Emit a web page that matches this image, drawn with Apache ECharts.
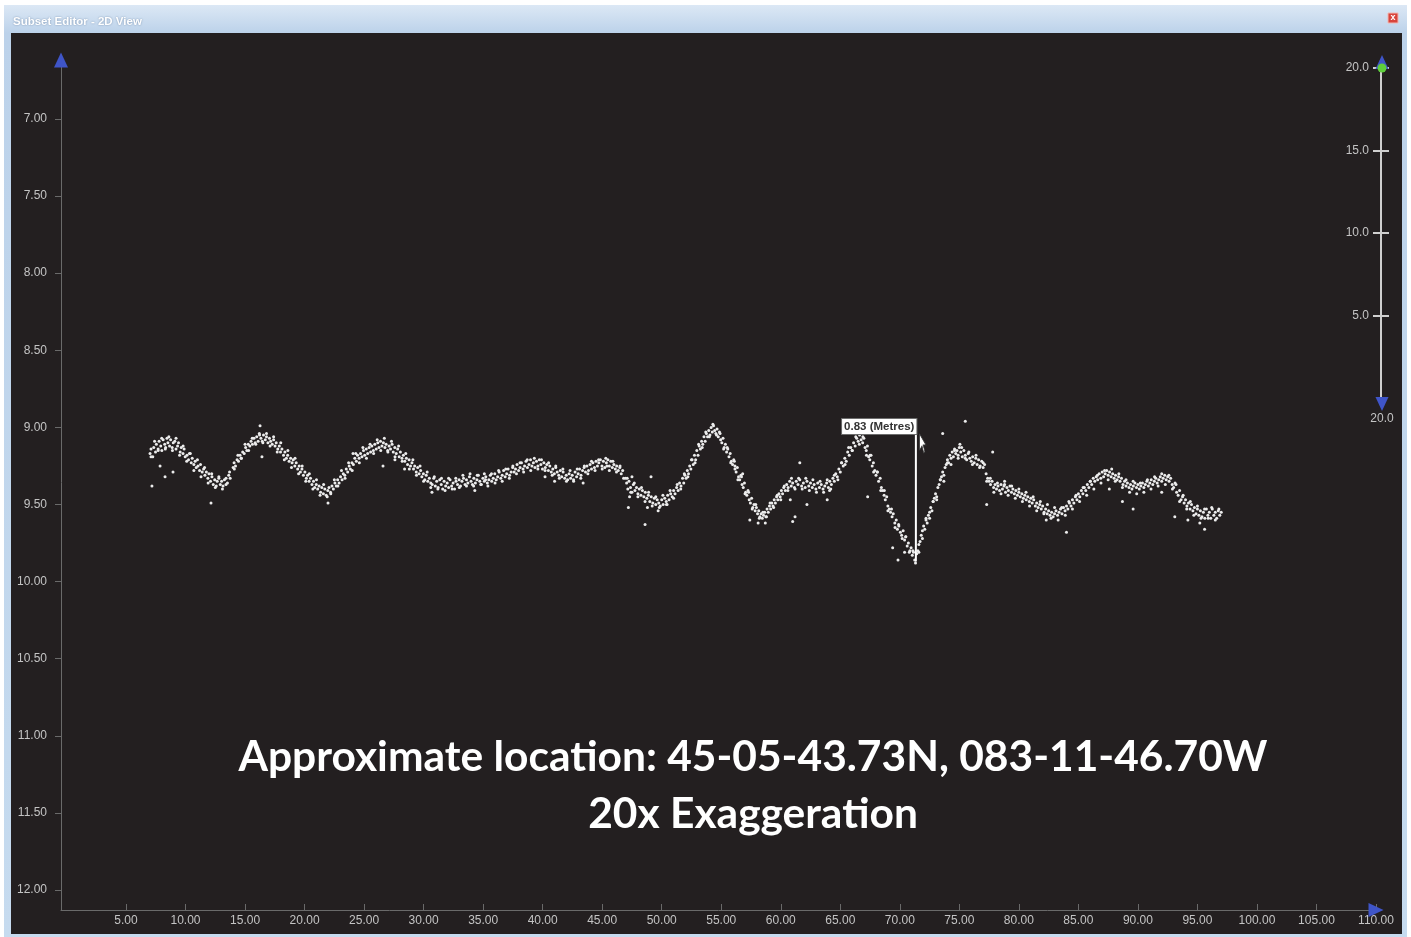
<!DOCTYPE html>
<html>
<head>
<meta charset="utf-8">
<title>Subset Editor - 2D View</title>
<script src="https://cdn.jsdelivr.net/npm/echarts@6/dist/echarts.min.js"></script>
<style>
  html, body { margin: 0; padding: 0; background: #ffffff; }
  #chart { width: 1411px; height: 937px; }
</style>
</head>
<body>
<div id="chart"></div>
<script>
// Profile soundings: [distance along line, depth (m)]
const ridgeWest = [
  [7.02,9.17],[7.10,9.14],[7.25,9.19],[7.33,9.13],[7.48,9.16],[7.55,9.11],[7.70,9.14],[7.78,9.09],[7.92,9.12],[8.01,9.15],
  [8.12,9.08],[8.25,9.11],[8.33,9.13],[8.44,9.07],[8.52,9.10],[8.66,9.12],[8.75,9.08],[8.88,9.13],[8.97,9.10],[9.10,9.09],
  [9.20,9.14],[9.33,9.12],[9.41,9.10],[9.55,9.16],[9.64,9.13],[9.79,9.17],[9.88,9.14],[9.97,9.19],[10.12,9.18],[10.25,9.21],
  [10.33,9.17],[10.48,9.23],[10.56,9.20],[10.70,9.24],[10.81,9.22],[10.90,9.26],[11.05,9.25],[11.18,9.28],[11.26,9.24],[11.40,9.29],
  [11.52,9.27],[11.63,9.31],[11.75,9.29],[11.88,9.33],[11.97,9.30],[12.10,9.35],[12.22,9.32],[12.33,9.37],[12.45,9.34],[12.58,9.38],
  [12.66,9.35],[12.80,9.33],[12.92,9.37],[13.03,9.35],[13.15,9.38],[13.27,9.34],[13.40,9.33],[13.52,9.36],[13.63,9.31],[13.75,9.33],
  [14.00,9.26],[14.08,9.23],[14.20,9.25],[14.33,9.21],[14.45,9.22],[14.58,9.18],[14.66,9.20],[14.80,9.16],[14.93,9.17],[15.05,9.13],
  [15.15,9.15],[15.27,9.11],[15.40,9.12],[15.50,9.09],[15.62,9.11],[15.75,9.07],[15.85,9.10],[15.98,9.06],[16.10,9.09],[16.22,9.05],
  [16.33,9.07],[16.45,9.09],[16.55,9.05],[16.70,9.08],[16.80,9.06],[16.92,9.10],[17.05,9.07],[17.15,9.09],[17.28,9.11],[17.40,9.08],
  [17.52,9.12],[17.62,9.10],[17.75,9.14],[17.88,9.12],[17.98,9.16],[18.10,9.14],[18.23,9.18],[18.35,9.16],[18.47,9.20],[18.58,9.18],
  [18.70,9.22],[18.83,9.20],[18.95,9.23],[19.05,9.21],[19.18,9.25],[19.30,9.23],[19.42,9.27],[19.55,9.25],[19.65,9.29],[19.78,9.27],
  [19.90,9.31],[20.03,9.29],[20.15,9.33],[20.25,9.31],[20.38,9.35],[20.50,9.33],[20.62,9.37],[20.75,9.35],[20.85,9.39],[20.98,9.37],
  [21.10,9.40],[21.22,9.38],[21.35,9.42],[21.45,9.39],[21.58,9.43],[21.70,9.40],[21.82,9.44],[21.95,9.41],[22.05,9.39],[22.18,9.42],
  [22.30,9.38],[22.42,9.40],[22.55,9.36],[22.66,9.38],[22.78,9.34],[22.90,9.36],[23.02,9.32],[23.15,9.34],[23.25,9.30],[23.38,9.31],
  [23.50,9.27],[23.62,9.29],[23.75,9.25],[23.85,9.27],[23.98,9.23],[24.10,9.24],[24.22,9.20],[24.35,9.22],[24.45,9.18],[24.58,9.20],
  [24.70,9.17],[24.82,9.19],[24.95,9.15],[25.05,9.18],[25.18,9.14],[25.30,9.17],[25.42,9.13],[25.55,9.16],[25.65,9.12],[25.78,9.15],
  [25.90,9.11],[26.02,9.14],[26.15,9.10],[26.25,9.13],[26.38,9.09],[26.50,9.12],[26.62,9.10],[26.75,9.13],[26.85,9.11],[26.98,9.15],
  [27.10,9.12],[27.22,9.14],[27.35,9.11],[27.45,9.16],[27.58,9.13],[27.70,9.17],[27.82,9.14],[27.95,9.19],[28.05,9.16],[28.18,9.20],
  [28.30,9.18],[28.42,9.22],[28.55,9.20],[28.65,9.24],[28.78,9.21],[28.90,9.25],[29.02,9.23],[29.15,9.27],[29.25,9.25],[29.38,9.29],
  [29.50,9.26],[29.62,9.30],[29.75,9.28],[29.85,9.32],[29.98,9.30],[30.10,9.34],[30.22,9.31],[30.35,9.35],[30.48,9.33],[30.60,9.36]
];

const flatMid = [
  [30.72,9.37],[30.85,9.33],[30.98,9.38],[31.10,9.35],[31.22,9.39],[31.35,9.34],[31.48,9.37],[31.60,9.40],[31.72,9.35],[31.85,9.38],
  [31.98,9.36],[32.10,9.39],[32.22,9.34],[32.35,9.38],[32.48,9.36],[32.60,9.40],[32.72,9.35],[32.85,9.37],[32.98,9.34],[33.10,9.38],
  [33.22,9.35],[33.35,9.33],[33.48,9.37],[33.60,9.34],[33.72,9.36],[33.85,9.32],[33.98,9.35],[34.10,9.37],[34.22,9.33],[34.35,9.36],
  [34.48,9.34],[34.60,9.31],[34.72,9.35],[34.85,9.37],[34.98,9.33],[35.10,9.35],[35.22,9.32],[35.35,9.36],[35.48,9.34],[35.60,9.31],
  [35.72,9.35],[35.85,9.33],[35.98,9.30],[36.10,9.34],[36.22,9.32],[36.35,9.29],[36.48,9.33],[36.60,9.31],[36.72,9.28],[36.85,9.32],
  [36.98,9.30],[37.10,9.27],[37.22,9.31],[37.35,9.29],[37.48,9.26],[37.60,9.29],[37.72,9.27],[37.85,9.24],[37.98,9.28],[38.10,9.26],
  [38.22,9.23],[38.35,9.27],[38.48,9.25],[38.60,9.22],[38.72,9.26],[38.85,9.24],[38.98,9.21],[39.10,9.25],[39.22,9.23],[39.35,9.26],
  [39.48,9.22],[39.60,9.25],[39.72,9.21],[39.85,9.24],[39.98,9.27],[40.10,9.23],[40.22,9.26],[40.35,9.24],[40.48,9.28],[40.60,9.25],
  [40.72,9.29],[40.85,9.27],[40.98,9.30],[41.10,9.26],[41.22,9.29],[41.35,9.31],[41.48,9.28],[41.60,9.32],[41.72,9.29],[41.85,9.33],
  [41.98,9.31],[42.10,9.34],[42.22,9.30],[42.35,9.33],[42.48,9.31],[42.60,9.34],[42.72,9.29],[42.85,9.32],[42.98,9.30],[43.10,9.27],
  [43.22,9.31],[43.35,9.28],[43.48,9.26],[43.60,9.29],[43.72,9.25],[43.85,9.28],[43.98,9.24],[44.10,9.27],[44.22,9.23],[44.35,9.26],
  [44.48,9.22],[44.60,9.25],[44.72,9.23],[44.85,9.21],[44.98,9.25],[45.10,9.22],[45.22,9.26],[45.35,9.23],[45.48,9.21],[45.60,9.25],
  [45.72,9.22],[45.85,9.26],[45.98,9.24],[46.10,9.27],[46.22,9.25],[46.35,9.28],[46.48,9.26],[46.60,9.30],[46.72,9.28]
];

const swellMid = [
  [46.95,9.33],[47.05,9.36],[47.15,9.40],[47.25,9.35],[47.38,9.39],[47.50,9.42],[47.62,9.37],[47.75,9.41],[47.88,9.39],[48.00,9.43],
  [48.12,9.40],[48.25,9.44],[48.38,9.41],[48.50,9.45],[48.62,9.42],[48.75,9.46],[48.88,9.44],[49.00,9.48],[49.12,9.45],[49.25,9.49],
  [49.38,9.46],[49.50,9.50],[49.62,9.47],[49.75,9.49],[49.88,9.51],[50.00,9.47],[50.12,9.50],[50.25,9.46],[50.38,9.48],[50.50,9.44],
  [50.62,9.47],[50.75,9.43],[50.88,9.45],[51.00,9.41],[51.12,9.43],[51.25,9.39],[51.38,9.41],[51.50,9.36],[51.62,9.38],[51.75,9.33],
  [51.85,9.36],[51.95,9.31],[52.05,9.33],[52.15,9.28],[52.25,9.30],[52.35,9.25],[52.45,9.27],[52.55,9.21],[52.65,9.24],[52.75,9.18],
  [52.85,9.21],[52.95,9.15],[53.05,9.18],[53.15,9.12],[53.25,9.14],[53.35,9.09],[53.45,9.11],[53.55,9.06],[53.65,9.09],[53.75,9.04],
  [53.85,9.06],[53.95,9.02],[54.05,9.05],[54.15,9.00],[54.25,9.03],[54.35,8.99],[54.45,9.02],[54.55,9.04],[54.65,9.01],[54.75,9.06],
  [54.85,9.03],[54.95,9.08],[55.05,9.10],[55.15,9.07],[55.25,9.13],[55.35,9.11],[55.45,9.16],[55.55,9.14],[55.65,9.19],[55.75,9.17],
  [55.85,9.22],[55.95,9.24],[56.05,9.21],[56.15,9.27],[56.25,9.29],[56.35,9.26],[56.45,9.32],[56.55,9.34],[56.65,9.31],[56.75,9.37],
  [56.85,9.39],[56.95,9.36],[57.05,9.42],[57.15,9.44],[57.25,9.41],[57.35,9.47],[57.45,9.49],[57.55,9.46],[57.65,9.52],[57.75,9.50],
  [57.85,9.54],[57.95,9.52],[58.05,9.56],[58.15,9.54],[58.25,9.58],[58.35,9.56],[58.45,9.59],[58.55,9.57],[58.65,9.55],[58.75,9.58],
  [58.85,9.53],[58.95,9.55],[59.05,9.51],[59.15,9.53],[59.25,9.49],[59.35,9.51],[59.45,9.47],[59.55,9.49],[59.65,9.45],[59.75,9.47],
  [59.85,9.43],[59.95,9.45],[60.05,9.41],[60.15,9.43],[60.25,9.39],[60.38,9.41],[60.50,9.37],[60.62,9.39],[60.75,9.35],[60.88,9.38],
  [61.00,9.36],[61.15,9.39],[61.30,9.35],[61.45,9.37],[61.60,9.34],[61.75,9.38],[61.90,9.36],[62.05,9.39],[62.20,9.35],[62.35,9.38],
  [62.50,9.36],[62.65,9.39],[62.80,9.37],[62.95,9.40],[63.10,9.36],[63.25,9.39],[63.40,9.37],[63.55,9.40],[63.70,9.38],[63.85,9.36],
  [64.00,9.39],[64.12,9.35],[64.25,9.37],[64.38,9.33],[64.50,9.35],[64.62,9.30],[64.75,9.32],[64.88,9.27],[65.00,9.29],[65.12,9.23],
  [65.25,9.25],[65.38,9.20],[65.50,9.22],[65.62,9.16],[65.75,9.18],[65.88,9.13],[66.00,9.15],[66.12,9.10],[66.25,9.12],[66.38,9.07],
  [66.50,9.09],[66.62,9.05],[66.75,9.08]
];

const troughEast = [
  [66.88,9.10],[66.98,9.07],[67.08,9.13],[67.18,9.15],[67.28,9.12],[67.38,9.19],[67.48,9.21],[67.58,9.18],[67.68,9.25],[67.78,9.23],
  [67.90,9.28],[68.00,9.31],[68.12,9.29],[68.22,9.35],[68.35,9.33],[68.45,9.39],[68.55,9.41],[68.68,9.44],[68.78,9.47],[68.90,9.45],
  [69.00,9.51],[69.12,9.53],[69.22,9.55],[69.35,9.58],[69.45,9.56],[69.58,9.62],[69.70,9.60],[69.80,9.66],[69.92,9.64],[70.05,9.68],
  [70.15,9.70],[70.28,9.67],[70.40,9.73],[70.50,9.71],[70.62,9.77],[70.72,9.75],[70.85,9.80],[70.95,9.78],[71.05,9.83],[71.15,9.81],
  [71.25,9.86],[71.32,9.88],[71.42,9.82],[71.52,9.80],[71.60,9.76],[71.70,9.74],[71.80,9.70],[71.90,9.67],[72.00,9.64],[72.10,9.66],
  [72.20,9.60],[72.30,9.62],[72.40,9.57],[72.50,9.55],[72.60,9.52],[72.70,9.54],[72.80,9.48],[72.90,9.46],[73.00,9.43],[73.10,9.45],
  [73.20,9.39],[73.30,9.37],[73.40,9.34],[73.50,9.32],[73.60,9.29],[73.70,9.31],[73.80,9.26],[73.90,9.24],[74.00,9.21],[74.10,9.23],
  [74.20,9.18],[74.30,9.20],[74.40,9.16],[74.50,9.19],[74.60,9.14],[74.70,9.17],[74.80,9.15],[74.90,9.18],[75.00,9.13],[75.12,9.16],
  [75.25,9.19],[75.38,9.15],[75.50,9.18],[75.62,9.21],[75.75,9.17],[75.88,9.20],[76.00,9.22],[76.12,9.19],[76.25,9.23]
];

const tailEast = [
  [76.38,9.20],[76.50,9.24],[76.62,9.21],[76.75,9.25],[76.88,9.22],[77.00,9.26],[77.12,9.24],[77.25,9.30],[77.38,9.33],[77.50,9.35],
  [77.62,9.37],[77.75,9.35],[77.88,9.39],[78.00,9.37],[78.12,9.40],[78.25,9.38],[78.38,9.41],[78.50,9.37],[78.62,9.40],[78.75,9.38],
  [78.88,9.42],[79.00,9.39],[79.12,9.41],[79.25,9.38],[79.38,9.42],[79.50,9.40],[79.62,9.43],[79.75,9.41],[79.88,9.44],[80.00,9.42],
  [80.12,9.45],[80.25,9.43],[80.38,9.46],[80.50,9.44],[80.62,9.47],[80.75,9.45],[80.88,9.48],[81.00,9.46],[81.12,9.49],[81.25,9.47],
  [81.38,9.51],[81.50,9.49],[81.62,9.52],[81.75,9.50],[81.88,9.53],[82.00,9.51],[82.12,9.55],[82.25,9.53],[82.38,9.56],[82.50,9.54],
  [82.62,9.57],[82.75,9.55],[82.88,9.58],[83.00,9.56],[83.12,9.54],[83.25,9.57],[83.38,9.55],[83.50,9.53],[83.62,9.56],[83.75,9.52],
  [83.88,9.54],[84.00,9.51],[84.12,9.53],[84.25,9.49],[84.38,9.51],[84.50,9.47],[84.62,9.49],[84.75,9.45],[84.88,9.47],[85.00,9.43],
  [85.12,9.45],[85.25,9.41],[85.38,9.43],[85.50,9.39],[85.62,9.41],[85.75,9.37],[85.88,9.39],[86.00,9.35],[86.12,9.37],[86.25,9.33],
  [86.38,9.35],[86.50,9.32],[86.62,9.34],[86.75,9.30],[86.88,9.33],[87.00,9.29],[87.12,9.32],[87.25,9.30],[87.38,9.28],[87.50,9.31],
  [87.62,9.29],[87.75,9.32],[87.88,9.30],[88.00,9.33],[88.12,9.31],[88.25,9.34],[88.38,9.32],[88.50,9.35],[88.62,9.33],[88.75,9.37],
  [88.88,9.35],[89.00,9.38],[89.12,9.36],[89.25,9.39],[89.38,9.37],[89.50,9.40],[89.62,9.38],[89.75,9.36],[89.88,9.39],[90.00,9.37],
  [90.12,9.40],[90.25,9.38],[90.38,9.36],[90.50,9.39],[90.62,9.37],[90.75,9.35],[90.88,9.38],[91.00,9.36],[91.12,9.34],[91.25,9.37],
  [91.38,9.35],[91.50,9.33],[91.62,9.36],[91.75,9.34],[91.88,9.32],[92.00,9.35],[92.12,9.33],[92.25,9.31],[92.38,9.34],[92.50,9.32],
  [92.62,9.35],[92.75,9.33],[92.88,9.37],[93.00,9.39],[93.12,9.36],[93.25,9.42],[93.38,9.44],[93.50,9.41],[93.62,9.47],[93.75,9.45],
  [93.88,9.49],[94.00,9.47],[94.12,9.51],[94.25,9.49],[94.38,9.53],[94.50,9.50],[94.62,9.54],[94.75,9.52],[94.88,9.56],[95.00,9.53],
  [95.12,9.57],[95.25,9.54],[95.38,9.58],[95.50,9.55],[95.62,9.59],[95.75,9.53],[95.88,9.57],[96.00,9.55],[96.12,9.59],[96.25,9.53],
  [96.38,9.57],[96.50,9.55],[96.62,9.59],[96.75,9.54],[96.88,9.57],[97.00,9.55]
];

// Returns along the edges of the seabed band
const bandSpread = [
  [7.10,9.19],[7.40,9.09],[7.70,9.15],[8.00,9.07],[8.30,9.14],[8.60,9.06],[8.90,9.15],[9.20,9.07],[9.50,9.18],[9.80,9.12],
  [10.10,9.22],[10.40,9.17],[10.70,9.28],[11.00,9.21],[11.30,9.32],[11.60,9.26],[11.90,9.36],[12.20,9.30],[12.50,9.39],[12.80,9.32],
  [13.10,9.40],[13.40,9.37],[13.70,9.29],[14.10,9.27],[14.40,9.18],[14.70,9.20],[15.00,9.11],[15.30,9.15],[15.60,9.07],[15.90,9.11],
  [16.20,9.04],[16.50,9.10],[16.80,9.04],[17.10,9.12],[17.40,9.06],[17.70,9.16],[18.00,9.10],[18.30,9.21],[18.60,9.15],[18.90,9.26],
  [19.20,9.20],[19.50,9.30],[19.80,9.25],[20.10,9.35],[20.40,9.30],[20.70,9.40],[21.00,9.34],[21.30,9.44],[21.60,9.37],[21.90,9.45],
  [22.20,9.43],[22.50,9.34],[22.80,9.38],[23.10,9.28],[23.40,9.33],[23.70,9.23],[24.00,9.28],[24.30,9.17],[24.60,9.23],[24.90,9.13],
  [25.20,9.20],[25.50,9.11],[25.80,9.17],[26.10,9.08],[26.40,9.15],[26.70,9.07],[27.00,9.16],[27.30,9.09],[27.60,9.19],[27.90,9.12],
  [28.20,9.22],[28.50,9.17],[28.80,9.27],[29.10,9.21],[29.40,9.31],[29.70,9.25],[30.00,9.35],[30.30,9.29],[30.60,9.39],[30.90,9.32],
  [31.20,9.40],[31.50,9.33],[31.80,9.41],[32.10,9.33],[32.40,9.40],[32.70,9.33],[33.00,9.39],[33.30,9.31],[33.60,9.38],[33.90,9.30],
  [34.20,9.38],[34.50,9.31],[34.80,9.37],[35.10,9.30],[35.40,9.38],[35.70,9.30],[36.00,9.36],[36.30,9.28],[36.60,9.35],[36.90,9.27],
  [37.20,9.33],[37.50,9.25],[37.80,9.30],[38.10,9.23],[38.40,9.29],[38.70,9.21],[39.00,9.28],[39.30,9.20],[39.60,9.27],[39.90,9.21],
  [40.20,9.28],[40.50,9.23],[40.80,9.31],[41.10,9.25],[41.40,9.33],[41.70,9.27],[42.00,9.35],[42.30,9.28],[42.60,9.35],[42.90,9.27],
  [43.20,9.33],[43.50,9.25],[43.80,9.30],[44.10,9.22],[44.40,9.28],[44.70,9.21],[45.00,9.27],[45.30,9.20],[45.60,9.28],[45.90,9.22],
  [46.20,9.29],[46.50,9.25],[46.80,9.33],[47.10,9.33],[47.40,9.42],[47.70,9.36],[48.00,9.45],[48.30,9.39],[48.60,9.48],[48.90,9.42],
  [49.20,9.51],[49.50,9.45],[49.80,9.52],[50.10,9.44],[50.40,9.50],[50.70,9.41],[51.00,9.46],[51.30,9.37],[51.60,9.40],[51.90,9.30],
  [52.20,9.32],[52.50,9.21],[52.80,9.23],[53.10,9.11],[53.40,9.13],[53.70,9.03],[54.00,9.06],[54.30,8.98],[54.60,9.05],[54.90,9.04],
  [55.20,9.14],[55.50,9.13],[55.80,9.23],[56.10,9.22],[56.40,9.34],[56.70,9.32],[57.00,9.43],[57.30,9.42],[57.60,9.53],[57.90,9.50],
  [58.20,9.59],[58.50,9.55],[58.80,9.58],[59.10,9.49],[59.40,9.52],[59.70,9.44],[60.00,9.47],[60.30,9.38],[60.60,9.41],[60.90,9.33],
  [61.20,9.40],[61.50,9.33],[61.80,9.40],[62.10,9.33],[62.40,9.41],[62.70,9.34],[63.00,9.42],[63.30,9.35],[63.60,9.42],[63.90,9.34],
  [64.20,9.40],[64.50,9.31],[64.80,9.34],[65.10,9.23],[65.40,9.24],[65.70,9.13],[66.00,9.15],[66.30,9.06],[66.60,9.11],[66.90,9.06],
  [67.20,9.18],[67.50,9.18],[67.80,9.29],[68.10,9.29],[68.40,9.41],[68.70,9.41],[69.00,9.54],[69.30,9.53],[69.60,9.65],[69.90,9.63],
  [70.20,9.72],[70.50,9.71],[70.80,9.81],[71.10,9.80],[71.60,9.81],[71.90,9.72],[72.20,9.59],[72.50,9.59],[72.80,9.48],[73.10,9.47],
  [73.40,9.34],[73.70,9.35],[74.00,9.23],[74.30,9.24],[74.60,9.15],[74.90,9.20],[75.20,9.13],[75.50,9.20],[75.80,9.16],[76.10,9.24],
  [76.40,9.18],[76.70,9.26],[77.00,9.23],[77.30,9.35],[77.60,9.33],[77.90,9.42],[78.20,9.36],[78.50,9.43],[78.80,9.37],[79.10,9.44],
  [79.40,9.38],[79.70,9.46],[80.00,9.40],[80.30,9.48],[80.60,9.42],[80.90,9.51],[81.20,9.45],[81.50,9.54],[81.80,9.48],[82.10,9.56],
  [82.40,9.50],[82.70,9.59],[83.00,9.52],[83.30,9.60],[83.60,9.52],[83.90,9.57],[84.20,9.48],[84.50,9.53],[84.80,9.44],[85.10,9.48],
  [85.40,9.39],[85.70,9.44],[86.00,9.35],[86.30,9.40],[86.60,9.31],[86.90,9.36],[87.20,9.28],[87.50,9.34],[87.80,9.27],[88.10,9.35],
  [88.40,9.30],[88.70,9.39],[89.00,9.34],[89.30,9.42],[89.60,9.35],[89.90,9.43],[90.20,9.36],[90.50,9.42],[90.80,9.34],[91.10,9.40],
  [91.40,9.32],[91.70,9.38],[92.00,9.30],[92.30,9.37],[92.60,9.31],[92.90,9.40],[93.20,9.37],[93.50,9.48],[93.80,9.44],[94.10,9.53],
  [94.40,9.48],[94.70,9.57],[95.00,9.51],[95.30,9.59],[95.60,9.53],[95.90,9.59],[96.20,9.52],[96.50,9.60],[96.80,9.53]
];

// Scattered returns lying off the main seabed trace
const strayReturns = [
  [7.18,9.38],[7.86,9.25],[8.28,9.32],[8.95,9.29],[12.14,9.49],[16.26,8.99],[16.42,9.19],[21.97,9.49],[24.07,9.17],[26.59,9.25],
  [27.59,9.21],[28.40,9.27],[30.70,9.42],[34.30,9.41],[35.20,9.34],[40.20,9.32],[41.00,9.35],[43.40,9.36],[45.40,9.25],[47.30,9.45],
  [47.20,9.52],[48.60,9.63],[48.80,9.52],[49.10,9.32],[47.50,9.32],[49.70,9.54],[50.45,9.50],[56.15,9.25],[56.80,9.30],[57.40,9.60],
  [58.10,9.62],[58.70,9.62],[61.60,9.23],[60.80,9.47],[61.20,9.58],[61.00,9.61],[62.20,9.50],[63.90,9.47],[64.10,9.41],[67.30,9.45],
  [69.40,9.78],[69.85,9.86],[70.40,9.81],[73.60,9.04],[75.50,8.96],[75.05,9.11],[77.80,9.16],[77.30,9.50],[78.80,9.35],[82.30,9.60],
  [84.00,9.68],[88.70,9.48],[89.60,9.53],[92.00,9.42],[87.60,9.40],[93.10,9.58],[95.60,9.66],[95.20,9.62],[94.20,9.60]
];

// Axis tick values
const distanceTicks = [5, 10, 15, 20, 25, 30, 35, 40, 45, 50, 55, 60, 65, 70, 75, 80, 85, 90, 95, 100, 105, 110];
const depthTicks = [7.0, 7.5, 8.0, 8.5, 9.0, 9.5, 10.0, 10.5, 11.0, 11.5, 12.0];
const exaggerationTicks = [5, 10, 15, 20];

// Axis extents
const distanceMin = -0.46, distanceMax = 110;
const depthTop = 6.585, depthBottom = 12.13;
const exaggeration = 20;

// Peak-to-trough measurement
const measureAt = 71.35;
const measureTop = 9.04;
const measureBottom = 9.87;

const locationText = 'Approximate location: 45-05-43.73N, 083-11-46.70W';
const exaggerationText = exaggeration + 'x Exaggeration';

const chart = echarts.init(document.getElementById('chart'), null, { renderer: 'canvas' });

const axisGrey = '#6a6a6a';
const labelGrey = '#c4c4c4';
const arrowBlue = '#3f55c8';
const uiFont = '"Liberation Sans", Arial, sans-serif';
const soundingStyle = { color: '#ececec', opacity: 1 };

function soundings(name, data) {
  return {
    name: name, type: 'scatter', data: data, symbol: 'circle', symbolSize: 3,
    itemStyle: soundingStyle, silent: true, z: 3
  };
}

const option = {
  backgroundColor: '#ffffff',
  animation: false,
  graphic: [
    { type: 'rect', z: -10, shape: { x: 4, y: 5, width: 1403, height: 932 },
      style: { fill: new echarts.graphic.LinearGradient(0, 0, 0, 1, [
        { offset: 0, color: '#dce8f5' }, { offset: 0.03, color: '#bcd2ea' }, { offset: 1, color: '#c6dbef' }]) } },
    { type: 'rect', z: -9, shape: { x: 11, y: 33, width: 1391, height: 901 }, style: { fill: '#231f20' } },
    { type: 'text', z: 10, x: 13, y: 22,
      style: { text: 'Subset Editor - 2D View', fill: '#ffffff', font: 'bold 11.5px ' + uiFont,
        textVerticalAlign: 'middle', textShadowColor: 'rgba(60,90,130,0.6)', textShadowBlur: 2 } },
    { type: 'rect', z: 10, shape: { x: 1388, y: 13, width: 10, height: 10 }, style: { fill: '#d8443c', stroke: '#f2b7b2', lineWidth: 1 } },
    { type: 'text', z: 11, x: 1393, y: 18,
      style: { text: 'x', fill: '#ffffff', font: 'bold 9px ' + uiFont, textAlign: 'center', textVerticalAlign: 'middle' } },
    { type: 'text', z: 10, x: 753, y: 757,
      style: { text: locationText, fill: '#ffffff', font: 'bold 42.5px Lato, "Open Sans", sans-serif', textAlign: 'center', textVerticalAlign: 'middle' } },
    { type: 'text', z: 10, x: 753, y: 814,
      style: { text: exaggerationText, fill: '#ffffff', font: 'bold 42.5px Lato, "Open Sans", sans-serif', textAlign: 'center', textVerticalAlign: 'middle' } }
  ],
  grid: [
    { left: 61, right: 35, top: 55, bottom: 27, containLabel: false },
    { left: 1381, right: 28, top: 68, bottom: 539, containLabel: false }
  ],
  xAxis: [
    {
      type: 'value', gridIndex: 0, min: distanceMin, max: distanceMax,
      axisLine: { show: true, onZero: false, lineStyle: { color: axisGrey, width: 1 } },
      axisTick: { show: true, inside: true, length: 6, customValues: distanceTicks, lineStyle: { color: axisGrey } },
      axisLabel: { show: true, customValues: distanceTicks, margin: 5, color: labelGrey, fontSize: 12,
        fontFamily: uiFont, formatter: v => v.toFixed(2) },
      splitLine: { show: false }
    },
    { type: 'value', gridIndex: 1, min: 0, max: 1, show: false }
  ],
  yAxis: [
    {
      type: 'value', gridIndex: 0, inverse: true, min: depthTop, max: depthBottom,
      axisLine: { show: true, onZero: false, lineStyle: { color: axisGrey, width: 1 } },
      axisTick: { show: true, length: 6, customValues: depthTicks, lineStyle: { color: axisGrey } },
      axisLabel: { show: true, customValues: depthTicks, margin: 14, color: labelGrey, fontSize: 12,
        fontFamily: uiFont, formatter: v => v.toFixed(2) },
      splitLine: { show: false }
    },
    {
      type: 'value', gridIndex: 1, position: 'left', min: 0, max: exaggeration,
      axisLine: { show: true, onZero: false, lineStyle: { color: '#cfcfcf', width: 2 } },
      axisTick: { show: true, length: 8, customValues: exaggerationTicks, lineStyle: { color: '#cfcfcf', width: 2 } },
      axisLabel: { show: true, customValues: exaggerationTicks, margin: 12, color: labelGrey, fontSize: 12,
        fontFamily: uiFont, formatter: v => v.toFixed(1) },
      splitLine: { show: false }
    },
    {
      type: 'value', gridIndex: 1, position: 'right', min: 0, max: exaggeration,
      axisLine: { show: false },
      axisTick: { show: true, length: 8, customValues: exaggerationTicks, lineStyle: { color: '#cfcfcf', width: 2 } },
      axisLabel: { show: false },
      splitLine: { show: false }
    }
  ],
  series: [
    soundings('ridgeWest', ridgeWest),
    soundings('flatMid', flatMid),
    soundings('swellMid', swellMid),
    soundings('troughEast', troughEast),
    soundings('tailEast', tailEast),
    soundings('bandSpread', bandSpread),
    soundings('strayReturns', strayReturns),
    {
      name: 'measure', type: 'line', xAxisIndex: 0, yAxisIndex: 0,
      data: [[measureAt, measureTop], [measureAt, measureBottom]],
      symbol: 'none', lineStyle: { color: '#ffffff', width: 2 }, silent: true, z: 5
    },
    {
      name: 'measureLabel', type: 'scatter', xAxisIndex: 0, yAxisIndex: 0,
      data: [[measureAt, measureTop]], symbolSize: 1, itemStyle: { color: '#ffffff', opacity: 1 }, silent: true, z: 6,
      label: {
        show: true, position: [1, 1], align: 'right', verticalAlign: 'bottom', opacity: 1,
        formatter: () => (measureBottom - measureTop).toFixed(2) + ' (Metres)',
        color: '#333333', fontSize: 11.5, fontWeight: 'bold', fontFamily: uiFont,
        backgroundColor: '#ffffff', borderColor: '#6d6d6d', borderWidth: 1, padding: [2, 2, 1, 2], lineHeight: 12
      }
    },
    {
      name: 'pointer', type: 'scatter', xAxisIndex: 0, yAxisIndex: 0,
      data: [[measureAt, measureTop]],
      symbol: 'path://M0,0 L0,16 L4,12 L7,19 L9,18 L6,11 L11,11 Z',
      symbolSize: [11, 19], symbolKeepAspect: true, symbolOffset: [7, 10],
      itemStyle: { color: '#ffffff', borderColor: '#333333', borderWidth: 0.8, opacity: 1 }, silent: true, z: 7
    },
    {
      name: 'axisArrows', type: 'scatter', xAxisIndex: 0, yAxisIndex: 0,
      data: [
        { value: [distanceMax, depthBottom], symbolRotate: -90, symbolOffset: [0, 0] },
        { value: [distanceMin, depthTop], symbolRotate: 0, symbolOffset: [0, 5] }
      ],
      symbol: 'triangle', symbolSize: [14, 15], itemStyle: { color: arrowBlue, opacity: 1 }, silent: true, z: 8
    },
    {
      name: 'sliderArrows', type: 'scatter', xAxisIndex: 1, yAxisIndex: 1,
      data: [
        { value: [0.5, exaggeration], symbolRotate: 0, symbolOffset: [0, -6] },
        { value: [0.5, 0], symbolRotate: 180, symbolOffset: [0, 6],
          label: { show: true, position: 'bottom', distance: 2, formatter: exaggeration.toFixed(1),
            color: labelGrey, fontSize: 12, fontFamily: uiFont } }
      ],
      symbol: 'triangle', symbolSize: [13, 14], itemStyle: { color: arrowBlue, opacity: 1 }, silent: true, z: 8
    },
    {
      name: 'sliderHandle', type: 'scatter', xAxisIndex: 1, yAxisIndex: 1,
      data: [[0.5, exaggeration]], symbolSize: 9, itemStyle: { color: '#5fcf3c', opacity: 1 }, silent: true, z: 9
    }
  ]
};

chart.setOption(option);
</script>
</body>
</html>
